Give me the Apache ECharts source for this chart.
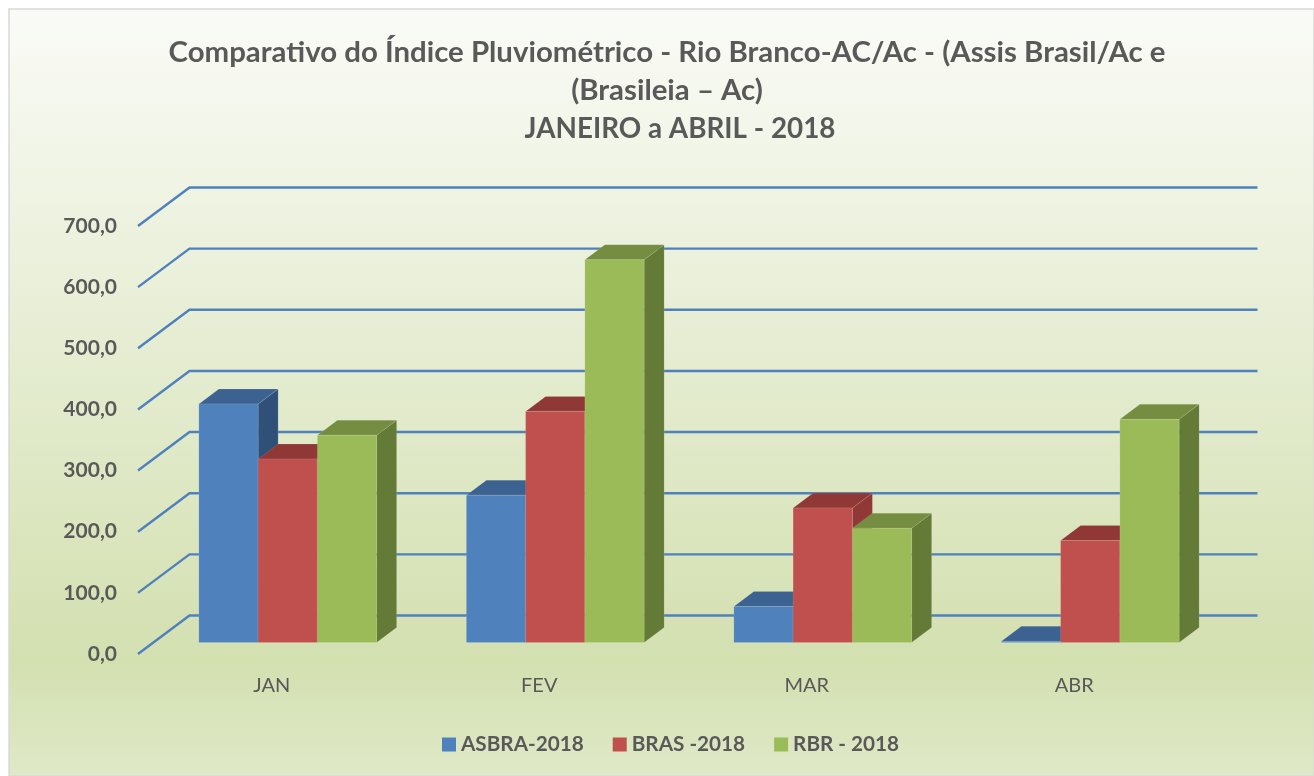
<!DOCTYPE html>
<html><head><meta charset="utf-8">
<style>html,body{margin:0;padding:0;background:#fff}#c{width:1314px;height:776px}</style>
<script src="https://cdn.jsdelivr.net/npm/echarts@6/dist/echarts.min.js"></script>
</head><body><div id="c"></div>
<script>
const categories = ['JAN','FEV','MAR','ABR'];
const asbra = [390, 241, 59, 2];
const bras = [300, 378, 220, 167];
const rbr = [339, 626, 187, 365];
const yTicks = [0,100,200,300,400,500,600,700];
const seriesNames = ['ASBRA-2018','BRAS -2018','RBR - 2018'];
const titleMain = 'Comparativo do Índice Pluviométrico - Rio Branco-AC/Ac - (Assis Brasil/Ac e\n(Brasileia – Ac)';
const titleSub = 'JANEIRO a ABRIL - 2018';

const palette = [
  {front:'#4f81bd', top:'#3c6291', side:'#2f5179'},
  {front:'#c0504d', top:'#8f3836', side:'#8f3836'},
  {front:'#9bbb59', top:'#758d41', side:'#647a37'}
];
const wallDx = 51.5, wallDy = -38.5, wallRightTrim = 2;
const barOffX = 16, barOffY = -11.5, barDepthX = 20, barDepthY = -15;
const barRatio = 0.2215;

function gridItem(params, api){
  const v = api.value(0);
  const p = api.coord([0, v]);
  const cs = params.coordSys;
  const x0 = cs.x, x1 = cs.x + cs.width - wallRightTrim, y = p[1];
  const ls = {stroke:'#4f81bd', lineWidth:2.4, fill:null};
  return {type:'group', children:[
    {type:'polyline', shape:{points:[[x0,y],[x0+wallDx,y+wallDy],[x1+wallDx,y+wallDy]]}, style:ls}
  ]};
}
function barRenderer(idx){
  return function(params, api){
    const c = api.value(0), v = api.value(1);
    const top = api.coord([c, v]), base = api.coord([c, 0]);
    const w = api.size([1,0])[0]*barRatio;
    const x0 = top[0] + barOffX + (idx-1.5)*w;
    const x1 = x0 + w;
    const yt = top[1] + barOffY, yb = base[1] + barOffY;
    const col = palette[idx];
    const edge = 'rgba(255,255,255,0.1)';
    return {type:'group', children:[
      {type:'polygon', shape:{points:[[x1,yt],[x1+barDepthX,yt+barDepthY],[x1+barDepthX,yb+barDepthY],[x1,yb]]}, style:{fill:col.side, stroke:edge, lineWidth:1}},
      {type:'polygon', shape:{points:[[x0,yt],[x0+barDepthX,yt+barDepthY],[x1+barDepthX,yt+barDepthY],[x1,yt]]}, style:{fill:col.top, stroke:edge, lineWidth:1}},
      {type:'rect', shape:{x:x0,y:yt,width:w,height:yb-yt}, style:{fill:col.front, stroke:edge, lineWidth:1}}
    ]};
  };
}
const chart = echarts.init(document.getElementById('c'), null, {renderer:'canvas'});
const values = [asbra, bras, rbr];
chart.setOption({
  animation:false,
  backgroundColor:'#ffffff',
  graphic:[{type:'rect', silent:true, z:-1, shape:{x:9,y:9,width:1305,height:767},
    style:{stroke:'#d9d9d9', lineWidth:1.5, fill:new echarts.graphic.LinearGradient(0,0,0,1,[
      {offset:0,color:'#fafbf7'},{offset:0.85,color:'#d3e0b0'},{offset:1,color:'#dfe9c8'}])}}],
  title:[
    {text:titleMain, left:662, top:29, textAlign:'center',
      textStyle:{fontFamily:'Lato', fontWeight:'bold', fontSize:29.4, lineHeight:38, color:'#595959'}},
    {text:titleSub, left:675, top:105, textAlign:'center',
      textStyle:{fontFamily:'Lato', fontWeight:'bold', fontSize:27.8, lineHeight:38, color:'#595959'}}
  ],
  legend:{data:seriesNames, left:437, top:729, icon:'rect', itemWidth:14, itemHeight:14, itemGap:29,
    textStyle:{fontFamily:'Lato', fontWeight:'bold', fontSize:20.7, color:'#595959'}},
  grid:{left:138, right:106, top:226, bottom:122},
  xAxis:{type:'category', data:categories, axisLine:{show:false}, axisTick:{show:false},
    axisLabel:{margin:22, fontFamily:'Lato', fontSize:20, color:'#595959'}},
  yAxis:{type:'value', min:0, max:700, interval:100, axisLine:{show:false}, axisTick:{show:false}, splitLine:{show:false},
    axisLabel:{margin:21, fontFamily:'Lato', fontWeight:'bold', fontSize:21, color:'#595959', padding:[3,0,0,0],
      formatter:v=>v.toFixed(1).replace('.',',')}},
  series:[
    {type:'custom', silent:true, data:yTicks.map(v=>[v]), encode:{y:0}, renderItem:gridItem, z:2},
    ...seriesNames.map((n,i)=>({type:'custom', name:n, itemStyle:{color:palette[i].front}, z:3,
      data:categories.map((_,k)=>[k, values[i][k]]), encode:{x:0,y:1}, renderItem:barRenderer(i)}))
  ]
});
</script></body></html>
